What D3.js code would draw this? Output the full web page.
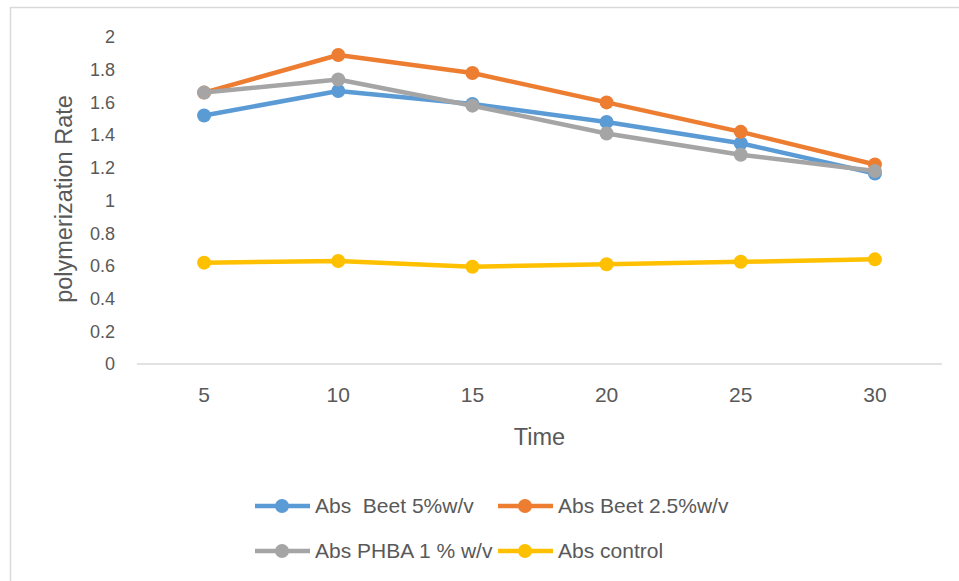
<!DOCTYPE html>
<html><head><meta charset="utf-8">
<script src="https://cdn.jsdelivr.net/npm/d3@7"></script>
<style>html,body{margin:0;padding:0;background:#fff;} svg{display:block;}</style>
</head><body>
<svg id="c" width="959" height="581"></svg>
<script>
const categories = [5, 10, 15, 20, 25, 30];
const seriesNames = ["Abs  Beet 5%w/v", "Abs Beet 2.5%w/v", "Abs PHBA 1 % w/v", "Abs control"];
const beet5 = [1.52, 1.67, 1.59, 1.48, 1.35, 1.165];
const beet25 = [1.66, 1.89, 1.78, 1.60, 1.42, 1.22];
const phba1 = [1.66, 1.74, 1.58, 1.41, 1.28, 1.18];
const control = [0.62, 0.63, 0.595, 0.61, 0.625, 0.64];
const yTicks = [0, 0.2, 0.4, 0.6, 0.8, 1, 1.2, 1.4, 1.6, 1.8, 2];
const colors = ["#5B9BD5", "#ED7D31", "#A5A5A5", "#FFC000"];
const seriesValues = [beet5, beet25, phba1, control];

const svg = d3.select("#c");
const font = "'Liberation Sans', Arial, sans-serif";
const textColor = "#595959";

// outer frame
svg.append("rect").attr("x", 10.5).attr("y", 7.5).attr("width", 1000).attr("height", 1000)
  .attr("fill", "none").attr("stroke", "#d9d9d9").attr("stroke-width", 1.5);

const x = d3.scaleBand().domain(categories).range([137, 942]).padding(0);
const y = d3.scaleLinear().domain([0, 2]).range([364, 37]);

// x axis line
svg.append("line").attr("x1", 137).attr("x2", 942).attr("y1", y(0)).attr("y2", y(0))
  .attr("stroke", "#d9d9d9").attr("stroke-width", 1.5);

// y tick labels
svg.append("g").selectAll("text").data(yTicks).join("text")
  .attr("x", 115).attr("y", d => y(d)).attr("dy", "0.35em")
  .attr("text-anchor", "end").attr("font-family", font).attr("font-size", 18)
  .attr("fill", textColor).text(d => d3.format("~g")(d));

// x tick labels
svg.append("g").selectAll("text").data(categories).join("text")
  .attr("x", d => x(d) + x.bandwidth() / 2).attr("y", 395).attr("dy", "0.35em")
  .attr("text-anchor", "middle").attr("font-family", font).attr("font-size", 21)
  .attr("fill", textColor).text(d => d);

// axis titles
svg.append("text").attr("x", 539.5).attr("y", 437).attr("dy", "0.35em")
  .attr("text-anchor", "middle").attr("font-family", font).attr("font-size", 23.5)
  .attr("fill", textColor).text("Time");
svg.append("text").attr("transform", "translate(64,199) rotate(-90)").attr("dy", "0.35em")
  .attr("text-anchor", "middle").attr("font-family", font).attr("font-size", 23.5)
  .attr("fill", textColor).text("polymerization Rate");

// series
const line = d3.line().x((d, i) => x(categories[i]) + x.bandwidth() / 2).y(d => y(d));
seriesValues.forEach((vals, si) => {
  const g = svg.append("g");
  g.append("path").datum(vals).attr("d", line).attr("fill", "none")
    .attr("stroke", colors[si]).attr("stroke-width", 4.5).attr("stroke-linejoin", "round");
  g.selectAll("circle").data(vals).join("circle")
    .attr("cx", (d, i) => x(categories[i]) + x.bandwidth() / 2).attr("cy", d => y(d))
    .attr("r", 7).attr("fill", colors[si]);
});

// legend
const legendPos = [[255, 506], [498, 506], [255, 551], [498, 551]];
seriesNames.forEach((name, i) => {
  const [lx, ly] = legendPos[i];
  const g = svg.append("g");
  g.append("line").attr("x1", lx).attr("x2", lx + 55).attr("y1", ly).attr("y2", ly)
    .attr("stroke", colors[i]).attr("stroke-width", 4.5);
  g.append("circle").attr("cx", lx + 27).attr("cy", ly).attr("r", 7).attr("fill", colors[i]);
  g.append("text").attr("x", lx + 60).attr("y", ly).attr("dy", "0.35em")
    .attr("font-family", font).attr("font-size", 21).attr("fill", textColor)
    .attr("xml:space", "preserve").style("white-space", "pre").text(name);
});
</script>
</body></html>
